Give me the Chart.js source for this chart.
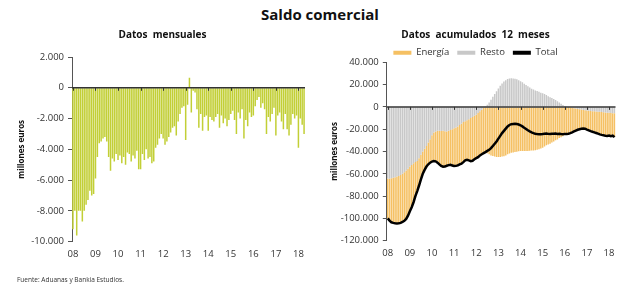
<!DOCTYPE html>
<html>
<head>
<meta charset="utf-8">
<script src="https://cdn.jsdelivr.net/npm/chart.js@4.4.1/dist/chart.umd.min.js"></script>
<style>
    body { margin: 0; background: #fff; width: 640px; height: 284px; position: relative; overflow: hidden; font-family: 'Open Sans', sans-serif; }
    #titulo { position: absolute; top: 4px; left: 0; width: 640px; text-align: center; font-weight: bold; font-size: 15px; color: #111; }
    #fuente { position: absolute; left: 17px; top: 275px; font-size: 6.5px; color: #333; }
    .caja { position: absolute; top: 0; width: 320px; height: 284px; }
</style>
</head>
<body>
<div id="titulo">Saldo comercial</div>
<div class="caja" style="left:0"><canvas id="grafico_mensual"></canvas></div>
<div class="caja" style="left:320px"><canvas id="grafico_acumulado"></canvas></div>
<div id="fuente">Fuente: Aduanas y Bankia Estudios.</div>
<script>
var anios = ['08', '09', '10', '11', '12', '13', '14', '15', '16', '17', '18'];
var numMeses = 124; // ene 2008 - abr 2018

var meses = [];
anios.forEach(function(anio) {
    for (var m = 1; m <= 12; m++) {
        meses.push((m < 10 ? '0' + m : '' + m) + '/' + anio);
    }
});
meses = meses.slice(0, numMeses);

// millones de euros, datos mensuales
var saldoMensual = [
    -9200, -8000, -9600, -8000, -8000, -8700, -8000, -7600, -7300, -6700, -7000, -6900,
    -5900, -4500, -3600, -3500, -3300, -3200, -3500, -4500, -5400, -4600, -4800, -4300,
    -4700, -4400, -4900, -4500, -5000, -4200, -4300, -4800, -4400, -4600, -4100, -5300,
    -5300, -4300, -4700, -4000, -4600, -4500, -4900, -4800, -3900, -3700, -3300, -3000,
    -3300, -3700, -3500, -3200, -2900, -2600, -2500, -3100, -2200, -1700, -1300, -1200,
    -3400, -1100, 650, -1600, -200, -300, -1400, -2600, -1700, -2800, -1900, -1800,
    -2800, -1900, -2100, -2200, -1900, -1700, -2600, -1800, -2300, -2000, -2500, -2100,
    -1700, -1500, -2100, -3000, -1600, -2000, -1400, -3300, -2100, -2500, -1600, -1900,
    -1800, -1200, -800, -600, -1300, -1000, -1400, -3000, -1900, -2200, -1700, -1300,
    -3100, -1800, -1600, -2200, -2700, -1700, -2700, -3100, -2400, -1700, -2000, -1800,
    -3900, -2000, -2400, -3000
];

// acumulado 12 meses
var resto = [
    -64300, -64500, -64000, -63500, -63000, -62500, -62000, -61000, -60000, -58500, -57000, -55500,
    -53500, -52000, -50500, -49500, -48600, -46000, -43000, -40000, -37500, -35000, -32000, -29000,
    -25500, -23000, -22000, -21500, -21400, -21600, -21400, -21800, -22000, -21500, -20800, -20000,
    -19200, -18500, -17500, -16300, -15000, -13500, -12800, -12000, -11000, -10000, -9000, -8000,
    -7100, -5500, -4000, -2500, -1000, 500, 2000, 4000, 6500, 9000, 11500, 14000,
    16500, 19000, 21000, 22700, 24000, 25000, 25500, 25700, 25500, 25300, 24800, 24000,
    23000, 22000, 20800, 19700, 18500, 17300, 16300, 15500, 14800, 14200, 13500, 12800,
    12300, 11500, 10700, 9600, 8700, 8000, 7000, 6200, 5000, 4000, 2900, 1800,
    900, 200, -300, -600, -900, -1200, -1500, -1800, -2100, -2400, -2700, -3000,
    -3200, -3400, -3600, -3800, -4000, -4200, -4300, -4400, -4600, -4800, -5000, -5200,
    -5300, -5500, -5600, -5700
];

var energia = [
    -35700, -37500, -39500, -40500, -41300, -42000, -42300, -43000, -43200, -43700, -43500, -42000,
    -40000, -38000, -35000, -30500, -26900, -24500, -22000, -20000, -19000, -18500, -19500, -21000,
    -23500, -25500, -26800, -28500, -30100, -31400, -32300, -31700, -30800, -30700, -31200, -32500,
    -33800, -34400, -35000, -35200, -35900, -36000, -35200, -35400, -37000, -38600, -39300, -39000,
    -38900, -39600, -39500, -40000, -40500, -41000, -41500, -42500, -43500, -44000, -44500, -45000,
    -45000, -45000, -44500, -44200, -43500, -42500, -41700, -41200, -40800, -40500, -40200, -39800,
    -39500, -39500, -39500, -39500, -39500, -39300, -39100, -39000, -38800, -38500, -38000, -37300,
    -36600, -35500, -34500, -33800, -33000, -32000, -31100, -30000, -29200, -28000, -27200, -26300,
    -25100, -24500, -23700, -22900, -21900, -20800, -19700, -18700, -17900, -17200, -16700, -16500,
    -17100, -17600, -18100, -18500, -18800, -19200, -19700, -20200, -20500, -20700, -20800, -20800,
    -20400, -20800, -20200, -21400
];

var total = [
    -100000, -102000, -103500, -104000, -104300, -104500, -104300, -104000, -103200, -102200, -100500, -97500,
    -93500, -90000, -85500, -80000, -75500, -70500, -65000, -60000, -56500, -53500, -51500, -50000,
    -49000, -48500, -48800, -50000, -51500, -53000, -53700, -53500, -52800, -52200, -52000, -52500,
    -53000, -52900, -52500, -51500, -50900, -49500, -48000, -47400, -48000, -48600, -48300, -47000,
    -46000, -45100, -43500, -42500, -41500, -40500, -39500, -38500, -37000, -35000, -33000, -31000,
    -28500, -26000, -23500, -21500, -19500, -17500, -16200, -15500, -15300, -15200, -15400, -15800,
    -16500, -17500, -18700, -19800, -21000, -22000, -22800, -23500, -24000, -24300, -24500, -24500,
    -24300, -24000, -23800, -24200, -24300, -24000, -24100, -23800, -24200, -24000, -24300, -24500,
    -24200, -24300, -24000, -23500, -22800, -22000, -21200, -20500, -20000, -19600, -19400, -19500,
    -20300, -21000, -21700, -22300, -22800, -23400, -24000, -24600, -25100, -25500, -25800, -26000,
    -25700, -26300, -25800, -27100
];

var ordenLeyenda = ['Energía', 'Resto', 'Total'];

Chart.defaults.font.family = "'Open Sans', sans-serif";
Chart.defaults.color = '#333';

function miles(v) {
    var s = Math.abs(v).toString().replace(/\B(?=(\d{3})+(?!\d))/g, '.');
    return (v < 0 ? '-' : '') + s;
}

function etiquetaAnio(value, index) {
    return index % 12 === 0 ? meses[index].slice(-2) : null;
}

// linea del cero y marcas de cada enero sobre ella
var lineaCero = {
    id: 'lineaCero',
    afterDatasetsDraw: function(chart) {
        var ctx = chart.ctx;
        var area = chart.chartArea;
        var escX = chart.scales.x;
        var y0 = chart.scales.y.getPixelForValue(0);
        ctx.save();
        ctx.strokeStyle = '#333';
        ctx.lineWidth = 1.5;
        ctx.beginPath();
        ctx.moveTo(area.left, y0);
        ctx.lineTo(area.right, y0);
        ctx.stroke();
        ctx.lineWidth = 1;
        ctx.beginPath();
        for (var i = 0; i < meses.length; i += 12) {
            var px = Math.round(escX.getPixelForValue(i)) + 0.5;
            ctx.moveTo(px, y0);
            ctx.lineTo(px, y0 + 3);
        }
        ctx.stroke();
        ctx.restore();
    }
};

var graficoMensual = new Chart(document.getElementById('grafico_mensual'), {
    type: 'bar',
    data: {
        labels: meses,
        datasets: [{
            label: 'Saldo',
            data: saldoMensual,
            backgroundColor: '#c2cf36',
            barPercentage: 0.8,
            categoryPercentage: 1
        }]
    },
    options: {
        responsive: true,
        maintainAspectRatio: false,
        animation: false,
        layout: { padding: { top: 20, left: 20, right: 15, bottom: 17 } },
        plugins: {
            legend: { display: false },
            tooltip: { enabled: false },
            title: {
                display: true,
                text: 'Datos  mensuales',
                color: '#111',
                font: { size: 10, weight: 'bold' },
                padding: { top: 9, bottom: 16 }
            }
        },
        scales: {
            x: {
                grid: { display: false, drawTicks: false },
                border: { display: false },
                ticks: { autoSkip: false, maxRotation: 0, padding: 7, font: { size: 9.5 }, callback: etiquetaAnio }
            },
            y: {
                min: -10000,
                max: 2000,
                ticks: { stepSize: 2000, padding: 4, font: { size: 9.5 }, callback: miles },
                grid: { drawOnChartArea: false, tickLength: 4, color: '#555' },
                border: { color: '#555' },
                title: { display: true, text: 'millones euros', color: '#111', font: { size: 8, weight: 'bold' }, padding: { top: -2.8, bottom: 0 } },
                afterFit: function(scale) { scale.width = 52; }
            }
        }
    },
    plugins: [lineaCero]
});

var graficoAcumulado = new Chart(document.getElementById('grafico_acumulado'), {
    type: 'bar',
    data: {
        labels: meses,
        datasets: [
            {
                type: 'line',
                label: 'Total',
                data: total,
                borderColor: '#000',
                backgroundColor: '#000',
                borderWidth: 2.5,
                pointRadius: 0,
                tension: 0,
                stack: 'linea'
            },
            {
                label: 'Resto',
                data: resto,
                backgroundColor: '#c8c8c8',
                stack: 'barras',
                barPercentage: 0.8,
                categoryPercentage: 1
            },
            {
                label: 'Energía',
                data: energia,
                backgroundColor: '#f5c063',
                stack: 'barras',
                barPercentage: 0.8,
                categoryPercentage: 1
            }
        ]
    },
    options: {
        responsive: true,
        maintainAspectRatio: false,
        animation: false,
        layout: { padding: { top: 20, left: 15.5, right: 24.5, bottom: 17.9 } },
        plugins: {
            tooltip: { enabled: false },
            title: {
                display: true,
                text: 'Datos  acumulados  12  meses',
                color: '#111',
                font: { size: 10, weight: 'bold' },
                padding: { top: 9, bottom: -1 }
            },
            legend: {
                maxHeight: 22.3,
                labels: {
                    boxWidth: 18,
                    boxHeight: 4,
                    padding: 8,
                    font: { size: 9.5 },
                    generateLabels: function(chart) {
                        var items = Chart.defaults.plugins.legend.labels.generateLabels(chart);
                        items.forEach(function(item) { item.lineWidth = 0; });
                        return items;
                    },
                    sort: function(a, b) {
                        return ordenLeyenda.indexOf(a.text) - ordenLeyenda.indexOf(b.text);
                    }
                }
            }
        },
        scales: {
            x: {
                grid: { display: false, drawTicks: false },
                border: { display: false },
                ticks: { autoSkip: false, maxRotation: 0, padding: 7, font: { size: 9.5 }, callback: etiquetaAnio }
            },
            y: {
                stacked: true,
                min: -120000,
                max: 40000,
                ticks: { stepSize: 20000, padding: 4, font: { size: 9.5 }, callback: miles },
                grid: { drawOnChartArea: false, tickLength: 4, color: '#555' },
                border: { color: '#555' },
                title: { display: true, text: 'millones euros', color: '#111', font: { size: 8, weight: 'bold' }, padding: { top: -5.3, bottom: 0 } },
                afterFit: function(scale) { scale.width = 51.3; }
            }
        }
    },
    plugins: [lineaCero]
});
</script>
</body>
</html>
